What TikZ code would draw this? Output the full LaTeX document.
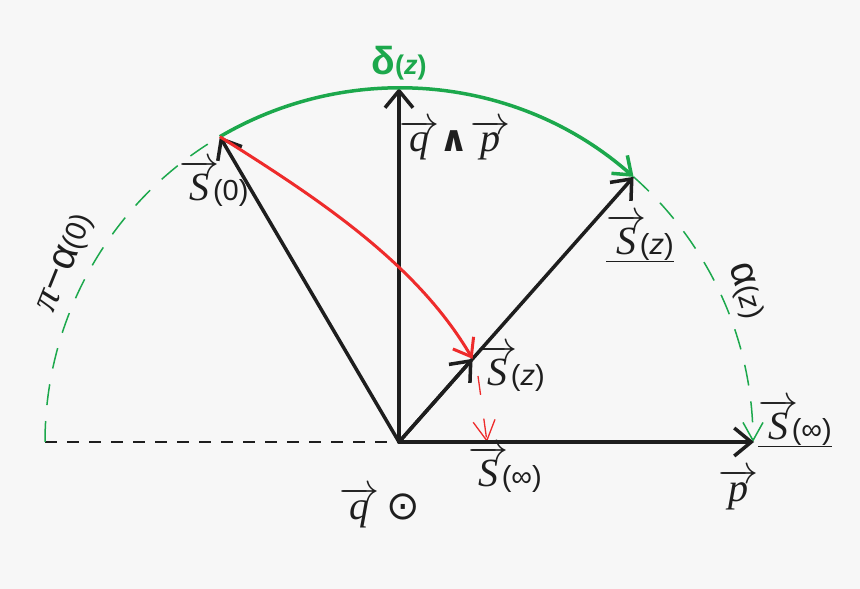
\RequirePackage{fix-cm}
\documentclass[tikz,border=0pt]{standalone}
\usepackage{fontspec}
\setmainfont{Liberation Serif}
\newfontfamily\sfx{Liberation Sans}
\newfontfamily\dvs{DejaVu Sans}
\usetikzlibrary{arrows.meta,calc}
\definecolor{bg}{HTML}{F7F7F7}
\definecolor{ink}{HTML}{1E1E1E}
\definecolor{grn}{HTML}{1CA84C}
\definecolor{rd}{HTML}{EE2B2B}
\newcommand{\vecl}[1]{$\overrightarrow{\hbox{\itshape #1}}$}
\newcommand{\pz}[1]{\kern-0.16em{\sfx\fontsize{29}{31}\selectfont(#1)}}
\newcommand{\pzi}[1]{\kern-0.16em{\sfx\fontsize{29}{31}\selectfont(\textit{#1})}}
\newcommand{\pzn}[1]{{\sfx\fontsize{29}{31}\selectfont(#1)}}
\tikzset{
  vecarrow/.style={ink, line width=3.5pt, line cap=round,
    -{Straight Barb[length=17pt,width=28pt]}},
  grnarc/.style={grn, line width=3.5pt,
    -{Straight Barb[length=16pt,width=24pt]}},
  redarc/.style={rd, line width=3pt,
    -{Straight Barb[length=16pt,width=24pt]}},
  grndash/.style={grn, line width=1.5pt, dash pattern=on 21pt off 16pt},
  reddash/.style={rd, line width=1.3pt, dash pattern=on 19pt off 24pt,
    -{Straight Barb[length=20pt,width=22pt,line width=1.3pt]}},
  blkdash/.style={ink, line width=1.5pt, dash pattern=on 12pt off 10pt},
  lab/.style={ink, inner sep=0pt, font=\fontsize{40}{42}\selectfont},
}
\begin{document}
\begin{tikzpicture}[x=1pt,y=1pt]
\fill[bg] (0,0) rectangle (860,589);
\useasboundingbox (0,0) rectangle (860,589);
% key points
\coordinate (O) at (399,147);
\coordinate (T) at ($(O)+(90:354)$);
\coordinate (S0) at ($(O)+(120.4:354)$);
\coordinate (Sz) at ($(O)+(48.5:354)$);
\coordinate (Szl) at ($(O)+(48.5:111)$);
\coordinate (Sinf) at ($(O)+(0:355)$);
\coordinate (L) at ($(O)+(180:354)$);
\coordinate (rs) at (478,213);
\coordinate (re) at (487,147);
% dashed lines
\draw[blkdash] (L) -- (O);
\draw[grndash] (L) arc[start angle=180, end angle=120.4, radius=354];
\draw[grndash, -{Straight Barb[length=18pt,width=20pt,line width=1.5pt]}]
  (Sz) arc[start angle=48.5, end angle=0, radius=354];
\draw[reddash] (rs) -- (re);
% vectors
\draw[vecarrow] (O) -- (Sinf);
\draw[vecarrow] (O) -- (T);
\draw[vecarrow] (O) -- (S0);
\draw[vecarrow] (O) -- (Sz);
\draw[vecarrow] (O) -- (Szl);
% arcs
\draw[grnarc] (S0) arc[start angle=120.4, end angle=48.5, radius=354];
\draw[redarc] (S0) .. controls (314,393) and (416,327) .. (Szl);
% labels
\node[grn, inner sep=0pt, font=\sfx\bfseries] (ld) at (399,526)
  {\fontsize{39}{41}\selectfont δ\fontsize{27}{29}\selectfont(\textit{z})};
\node[lab] (lqp) at (455,449) {\vecl{q}{\dvs\bfseries\fontsize{36}{38}\selectfont ∧}\kern0.05em\vecl{p}};
\node[lab] (lS0) at (214,406) {\vecl{S}\pz{0}};
\node[lab] (lSz) at (640,351) {\underline{\vecl{S}\pzi{z}}};
\node[lab, rotate=-73] (laz) at (745,298) {{\sfx α}\pzn{\textit{z}}};
\node[lab, rotate=68] (lpa) at (66,326) {\textit{π}{\sfx −α}\pzn{0}};
\node[lab] (lSzl) at (511,221) {\vecl{S}\pzi{z}};
\node[lab] (lSi) at (505,120) {\vecl{S}\pz{∞}};
\node[lab] (lSi2) at (795,166) {\underline{\vecl{S}\pz{∞}}};
\node[lab] (lp) at (738,100) {\vecl{p}};
\node[lab] (lq) at (380,82) {\vecl{q}\,{\dvs\fontsize{40}{42}\selectfont ⊙}};
\end{tikzpicture}
\end{document}
